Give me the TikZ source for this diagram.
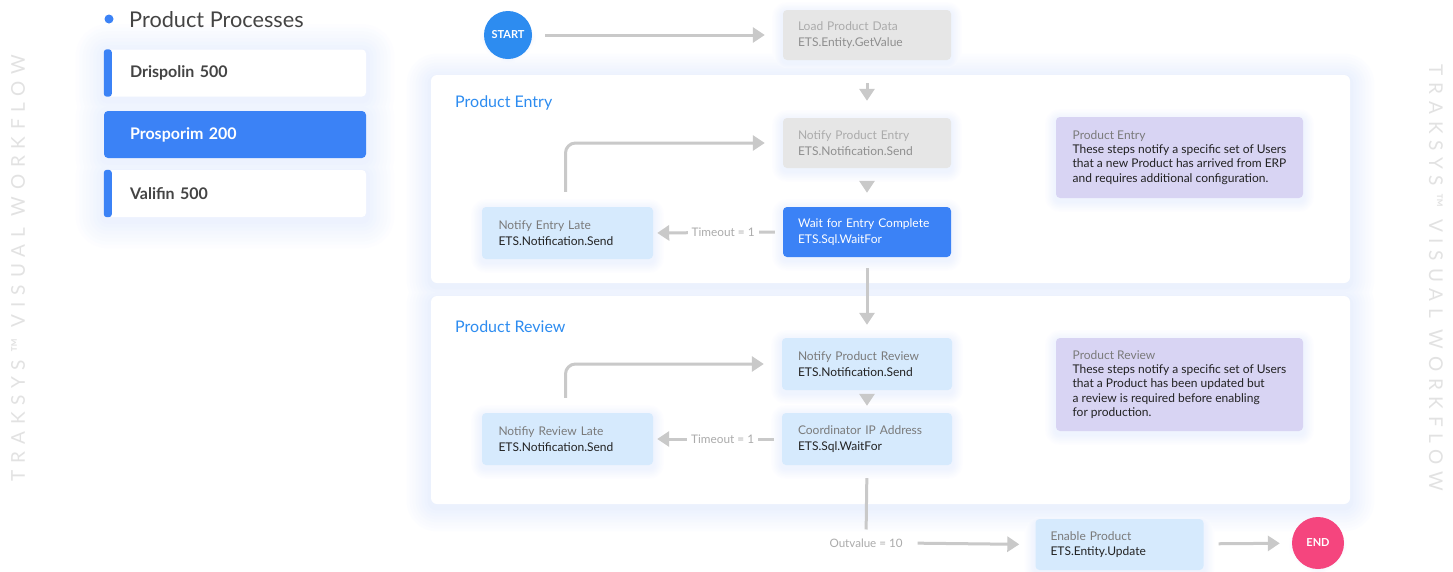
\documentclass[tikz,border=0pt]{standalone}
\usepackage{fontspec}
\setmainfont{Lato}
\usetikzlibrary{arrows.meta,calc}
\definecolor{pblue}{HTML}{3B82F6}
\definecolor{sblue}{HTML}{2D8CF0}
\definecolor{lblue}{HTML}{D6EAFD}
\definecolor{lgray}{HTML}{E6E6E6}
\definecolor{lav}{HTML}{D8D4F3}
\definecolor{arrgray}{HTML}{C9C9C9}
\definecolor{endpink}{HTML}{F5457E}
\definecolor{txtdark}{HTML}{222222}
\definecolor{txtmid}{HTML}{7A7A7A}
\definecolor{txtlight}{HTML}{ABABAB}
\definecolor{txtgraytwo}{HTML}{8F8F8F}
\definecolor{wmgray}{HTML}{E2E2E2}
\definecolor{glowc}{HTML}{4A80F2}
\definecolor{sidetxt}{HTML}{444444}
\pgfdeclarelayer{bgw}
\pgfdeclarelayer{pglow}
\pgfdeclarelayer{panel}
\pgfdeclarelayer{bglow}
\pgfsetlayers{bgw,pglow,panel,bglow,main}
% soft glows: rings drawn from outside in, for all listed nodes at once
% list entries: node/step size/max percentage/corner radius
\newcommand\glowset[1]{%
  \foreach \k in {8,...,1}{%
    \foreach \gn/\gs/\gp/\gr in {#1}{%
      \pgfmathsetmacro\glowd{\k*\gs}%
      \pgfmathsetmacro\glowp{\gp*(9-\k)/8}%
      \fill[glowc!\glowp!white, rounded corners=\gr pt+\glowd pt]
        ([shift={(-\glowd,-\glowd+3)}]\gn.north west) rectangle
        ([shift={(\glowd,\glowd+3)}]\gn.south east);
    }}}
\begin{document}
\begin{tikzpicture}[x=1pt,y=-1pt,
  stepbox/.style={rectangle, rounded corners=4pt, minimum width=168pt, minimum height=50pt,
    text width=138pt, inner xsep=15pt, align=left, font=\fontsize{12}{15.5}\selectfont},
  notebox/.style={rectangle, rounded corners=4pt, fill=lav, minimum width=247pt,
    align=left, font=\fontsize{12}{14.3}\selectfont, text=txtdark},
  panelbox/.style={rectangle, rounded corners=6pt, fill=white, minimum width=919pt, minimum height=208pt},
  sidecard/.style={rectangle, rounded corners=4pt, minimum width=262pt, minimum height=47pt,
    text width=210pt, inner xsep=26pt, align=left, font=\fontsize{16}{19}\selectfont\bfseries},
  sectitle/.style={anchor=base west, inner sep=0pt, text=sblue, font=\fontsize{16}{19}\selectfont},
  conn/.style={draw=arrgray, line width=3pt},
  arr/.style={conn, -{Triangle[length=12pt,width=15pt]}},
  lbl/.style={fill=white, text=txtlight, inner xsep=4pt, inner ysep=1pt, font=\fontsize{11.8}{13}\selectfont},
  wmark/.style={text=wmgray, inner sep=0pt, font=\fontsize{19}{21}\selectfont\addfontfeatures{LetterSpace=36}}
]
\useasboundingbox (0,0) rectangle (1453,571);
\begin{pgfonlayer}{bgw}
\fill[white] (0,0) rectangle (1453,571);
\end{pgfonlayer}

% watermarks
\node[wmark, rotate=90] (wml) at (18,268) {TRAKSYS™ VISUAL WORKFLOW};
\node[wmark, rotate=-90] (wmr) at (1436,278) {TRAKSYS™ VISUAL WORKFLOW};

% sidebar
\fill[pblue] (109,19) circle (4.5);
\node[anchor=base west, inner sep=0pt, text=sidetxt, font=\fontsize{21.7}{24}\selectfont] (pp) at (129,27) {Product Processes};
\node[sidecard, fill=white, text=sidetxt] (dri) at (235,73) {Drispolin 500};
\node[sidecard, fill=pblue, text=white] (pro) at (235,134.5) {Prosporim 200};
\node[sidecard, fill=white, text=sidetxt] (val) at (235,193.5) {Valifin 500};
\fill[pblue, rounded corners=3pt] (dri.north west) rectangle ([xshift=8pt]dri.south west);
\fill[pblue, rounded corners=3pt] (val.north west) rectangle ([xshift=8pt]val.south west);

% panels
\begin{pgfonlayer}{panel}
\node[panelbox] (pe) at (890.5,179) {};
\node[panelbox] (pr) at (890.5,400) {};
\end{pgfonlayer}
\node[sectitle] (pet) at (455,107) {Product Entry};
\node[sectitle] (prt) at (455,332) {Product Review};

% start / end
\node[circle, fill=sblue, minimum size=48pt, inner sep=0pt, text=white, font=\fontsize{11}{13}\selectfont\bfseries] (start) at (508,35) {START};
\node[circle, fill=endpink, minimum size=52pt, inner sep=0pt, text=white, font=\fontsize{11}{13}\selectfont\bfseries] (end) at (1318,543) {END};

% step boxes
\node[stepbox, fill=lgray] (load) at (867,35) {\color{txtlight}Load Product Data\\\color{txtgraytwo}ETS.Entity.GetValue};
\node[stepbox, fill=lgray] (ne) at (867,143) {\color{txtlight}Notify Product Entry\\\color{txtgraytwo}ETS.Notification.Send};
\node[stepbox, fill=pblue, text=white] (wait) at (867,232) {Wait for Entry Complete\\ETS.Sql.WaitFor};
\node[stepbox, fill=lblue, minimum width=171pt, minimum height=52pt] (late1) at (567.5,233) {\color{txtmid}Notify Entry Late\\\color{txtdark}ETS.Notification.Send};
\node[stepbox, fill=lblue, minimum width=170pt, minimum height=52pt] (npr) at (867,364) {\color{txtmid}Notify Product Review\\\color{txtdark}ETS.Notification.Send};
\node[stepbox, fill=lblue, minimum width=170pt, minimum height=52pt] (coord) at (867,439) {\color{txtmid}Coordinator IP Address\\\color{txtdark}ETS.Sql.WaitFor};
\node[stepbox, fill=lblue, minimum width=171pt, minimum height=52pt] (late2) at (567.5,439) {\color{txtmid}Notifiy Review Late\\\color{txtdark}ETS.Notification.Send};
\node[stepbox, fill=lblue, minimum width=167pt, minimum height=51pt] (enable) at (1119.5,544.5) {\color{txtmid}Enable Product\\\color{txtdark}ETS.Entity.Update};

% notes
\node[notebox, minimum height=81pt] (note1) at (1179.5,157.5) {\color{txtmid}Product Entry\\
These steps notify a specific set of Users\\that a new Product has arrived from ERP\\and requires additional configuration.};
\node[notebox, minimum height=93pt] (note2) at (1179.5,384.5) {\color{txtmid}Product Review\\
These steps notify a specific set of Users\\that a Product has been updated but\\a review is required before enabling\\for production.};

% glows
\begin{pgfonlayer}{pglow}
\glowset{pe/3/11/6, pr/3/11/6, dri/3.5/10/4, pro/3.5/10/4, val/3.5/10/4,
  start/1.3/12/24, end/1.3/10/26, load/1.3/9/4, enable/1.3/9/4}
\end{pgfonlayer}
\begin{pgfonlayer}{bglow}
\glowset{ne/1.3/9/4, wait/1.3/9/4, late1/1.3/9/4, npr/1.3/9/4, coord/1.3/9/4,
  late2/1.3/9/4, note1/1.3/9/4, note2/1.3/9/4}
\end{pgfonlayer}

% connectors
\draw[arr, shorten <=13pt, shorten >=18pt] (start) -- (load);
\draw[arr, shorten <=23pt, shorten >=17pt] (load.south) -- (ne.north);
\draw[arr] ([shift={(0,13)}]ne.south) -- ([shift={(0,-14)}]wait.north);
\draw[arr, shorten <=8pt, shorten >=4pt] (wait.west) -- node[lbl, pos=0.46] (to1) {Timeout = 1} (late1.east);
\draw[arr, rounded corners=10pt] ([shift={(-2,-15)}]late1.north) |- ([xshift=-18pt]ne.west);
\draw[arr, shorten <=11pt, shorten >=13pt] (wait.south) -- (npr.north);
\draw[arr] ([shift={(0,4)}]npr.south) -- ([shift={(0,-7)}]coord.north);
\draw[arr, shorten <=8pt, shorten >=4pt] (coord.west) -- node[lbl, pos=0.46] (to2) {Timeout = 1} (late2.east);
\draw[arr, rounded corners=10pt] ([shift={(-2,-15)}]late2.north) |- ([xshift=-18pt]npr.west);
\node[text=txtlight, inner sep=0pt, font=\fontsize{11.6}{13}\selectfont] (ov) at (866,543) {Outvalue = 10};
\draw[conn, shorten <=13pt, shorten >=9pt] (coord.south) -- (ov.north);
\draw[arr, shorten <=15pt, shorten >=16pt] (ov.east) -- (enable.west);
\draw[arr, shorten <=15pt, shorten >=12pt] (enable) -- (end);
\end{tikzpicture}
\end{document}
